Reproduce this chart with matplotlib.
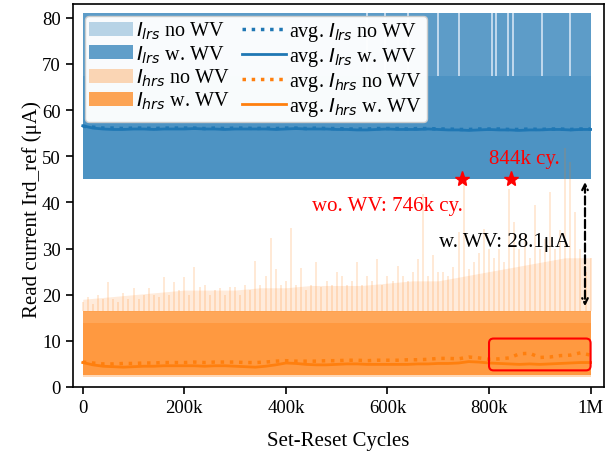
import matplotlib
matplotlib.use("Agg")
from matplotlib import pyplot as plt
from matplotlib.patches import FancyBboxPatch
import numpy as np

plt.rcParams['font.family'] = ['Liberation Serif', 'DejaVu Serif']
plt.rcParams['axes.linewidth'] = 1.2

# cycle grid for the averages (every 20k)
cycles = np.arange(0, 1000001, 20000)

avg_lrs_w = [56.6, 56.1, 55.9, 55.8, 55.8, 55.9, 55.9, 55.8, 55.9, 55.9,
             55.9, 56.0, 55.9, 55.9, 55.8, 55.9, 55.9, 55.9, 55.9, 55.8,
             55.9, 56.0, 55.9, 55.9, 55.9, 55.8, 55.8, 55.7, 55.7, 55.8,
             55.9, 55.8, 55.8, 55.8, 55.9, 55.8, 55.7, 55.7, 55.6, 55.7,
             55.8, 55.7, 55.7, 55.6, 55.7, 55.7, 55.8, 55.8, 55.7, 55.8, 55.8]
avg_lrs_no = [56.5, 56.3, 56.1, 56.1, 56.0, 56.1, 56.1, 56.0, 56.1, 56.1,
              56.1, 56.1, 56.0, 56.1, 56.0, 56.1, 56.1, 56.0, 56.1, 56.0,
              56.1, 56.1, 56.0, 56.1, 56.0, 56.0, 55.9, 55.9, 55.9, 56.0,
              56.0, 56.0, 55.9, 56.0, 56.0, 55.9, 55.9, 55.8, 55.8, 55.9,
              55.9, 55.9, 55.8, 55.8, 55.9, 55.8, 55.9, 55.9, 55.8, 55.9, 55.9]
avg_hrs_w = [5.3, 4.8, 4.5, 4.4, 4.3, 4.4, 4.5, 4.5, 4.6, 4.6,
             4.6, 4.6, 4.5, 4.6, 4.6, 4.5, 4.4, 4.3, 4.5, 4.8,
             5.2, 5.1, 4.9, 4.8, 4.8, 4.9, 5.0, 5.0, 4.9, 4.9,
             4.9, 4.9, 4.9, 5.0, 5.0, 5.1, 5.1, 5.2, 5.5, 5.4,
             5.2, 5.1, 5.0, 4.9, 5.0, 4.9, 5.0, 5.1, 5.2, 5.3, 5.3]
avg_hrs_no = [5.4, 5.2, 5.0, 5.0, 5.1, 5.1, 5.2, 5.2, 5.3, 5.3,
              5.3, 5.4, 5.3, 5.4, 5.4, 5.4, 5.3, 5.3, 5.4, 5.6,
              5.7, 5.6, 5.6, 5.6, 5.7, 5.7, 5.8, 5.8, 5.7, 5.8,
              5.8, 5.8, 5.9, 5.9, 6.0, 6.2, 6.2, 6.1, 6.5, 6.3,
              6.0, 6.1, 6.3, 7.2, 7.3, 6.4, 6.5, 6.8, 6.9, 7.4, 6.9]

# band limits (uA)
lrs_low, lrs_w_high, lrs_no_high = 45.0, 67.3, 81.0
hrs_no_low, hrs_w_low = 2.2, 2.5
hrs_w_high, hrs_no_high = 13.8, 16.4

# dense "moss" of no-WV HRS spikes, level per 50k
moss_cyc = np.arange(0, 1000001, 50000)
moss_lvl = [19, 19.5, 20, 20.5, 21, 21, 21, 21.5, 21.5, 22, 22,
            22, 22.5, 23, 23, 24, 25, 26, 27, 28, 28]

# peak of the no-WV HRS spikes in each 10k bin
spike_cyc = np.arange(0, 1000001, 10000)
spike_val = [18.5, 19.5, 18, 20, 19, 22.8, 19, 18.5, 20.3, 19, 21.4,
             19, 20, 21.4, 20, 19.5, 23.8, 20, 22.7, 21, 23.8,
             20, 26, 21.6, 22, 20, 21, 21.4, 20, 21.7, 21.7,
             20, 22, 21, 27.2, 22, 24.1, 32.3, 25.6, 22, 23,
             34.4, 22, 25.7, 21, 22, 27, 21.7, 23, 22, 25,
             24, 22, 23, 27, 22, 24, 23, 27.8, 22, 24,
             23, 26.3, 24, 23, 25, 27.8, 41.9, 24, 28.5, 25,
             25, 24, 26, 33.6, 45.5, 25.6, 27, 29, 34.3, 30,
             28, 30, 27, 43, 35.8, 30, 33, 28, 39.4, 30,
             32, 42.3, 30, 34, 51.7, 48.8, 38, 30, 25, 28]

# light gaps in the w-WV LRS spikes above 67 uA
lrs_gap_cyc = [560e3, 595e3, 640e3, 700e3, 740e3, 806e3, 814e3, 838e3, 848e3, 904e3, 960e3]

blue = '#1f77b4'
orange = '#ff7f0e'

fig = plt.figure(figsize=(6.05, 4.52), dpi=100)
ax = fig.add_axes([0.120, 0.1416, 0.878, 0.8475])

x_band = [0, 1000000]
h1 = ax.fill_between(x_band, lrs_low, lrs_no_high, color=blue, alpha=0.3, lw=0,
                     label=r'$I_{lrs}$ no WV')
h2 = ax.fill_between(x_band, lrs_low, lrs_w_high, color=blue, alpha=0.7, lw=0,
                     label=r'$I_{lrs}$ w. WV')
ax.fill_between(x_band, lrs_w_high, lrs_no_high, color=blue, alpha=0.6, lw=0)
ax.vlines(lrs_gap_cyc, lrs_w_high, lrs_no_high, color='#c9def0', lw=1.3)

h3 = ax.fill_between(x_band, hrs_no_low, hrs_no_high, color=orange, alpha=0.3, lw=0,
                     label=r'$I_{hrs}$ no WV')
h4 = ax.fill_between(x_band, hrs_w_low, hrs_w_high, color=orange, alpha=0.7, lw=0,
                     label=r'$I_{hrs}$ w. WV')
ax.fill_between(x_band, hrs_w_high, hrs_no_high, color=orange, alpha=0.55, lw=0)
ax.fill_between(moss_cyc, hrs_no_high, moss_lvl, color=orange, alpha=0.15, lw=0)
ax.vlines(spike_cyc, hrs_no_high, spike_val, color=orange, alpha=0.22, lw=1.1)

l1, = ax.plot(cycles, avg_lrs_no, ':', color=blue, lw=2.5, label=r'avg. $I_{lrs}$ no WV')
l2, = ax.plot(cycles, avg_lrs_w, '-', color=blue, lw=2, label=r'avg. $I_{lrs}$ w. WV')
l3, = ax.plot(cycles, avg_hrs_no, ':', color=orange, lw=2.5, label=r'avg. $I_{hrs}$ no WV')
l4, = ax.plot(cycles, avg_hrs_w, '-', color=orange, lw=2, label=r'avg. $I_{hrs}$ w. WV')

# failure points
ax.plot([746000, 844000], [45, 45], '*', color='red', ms=11, zorder=5)
ax.text(870000, 49.5, '844k cy.', color='red', fontsize=15, ha='center', va='center')
ax.text(600000, 39.3, 'wo. WV: 746k cy.', color='red', fontsize=15, ha='center', va='center')
ax.text(830000, 31.5, 'w. WV: 28.1μA', color='black', fontsize=15, ha='center', va='center')
ax.annotate('', xy=(989000, 16.9), xytext=(989000, 45),
            arrowprops=dict(arrowstyle='<->', linestyle='--', lw=1.6, color='black'))

box = FancyBboxPatch((800000, 3.6), 200000, 6.9,
                     boxstyle='round,pad=0,rounding_size=9000',
                     mutation_aspect=1.1e-4, fill=False, ec='red', lw=1.5, zorder=6)
ax.add_patch(box)

ax.set_xlim(-20000, 1026000)
ax.set_ylim(0, 83)
ax.set_xticks([0, 200000, 400000, 600000, 800000, 1000000])
ax.set_xticklabels(['0', '200k', '400k', '600k', '800k', '1M'])
ax.set_yticks(range(0, 81, 10))
ax.tick_params(labelsize=13.5, length=5, width=1.2)
ax.set_xlabel('Set-Reset Cycles', fontsize=15, labelpad=11)
ax.set_ylabel('Read current Ird_ref (μA)', fontsize=15)
ax.yaxis.set_label_coords(-0.058, 0.465)

ax.legend(handles=[h1, h2, h3, h4, l1, l2, l3, l4], loc='upper left', ncol=2,
          fontsize=14.5, handlelength=2.2, columnspacing=0.6, labelspacing=0.1,
          handletextpad=0.15, borderaxespad=0.6, borderpad=0.2, framealpha=0.97)

fig.savefig('out.png', dpi=100)
